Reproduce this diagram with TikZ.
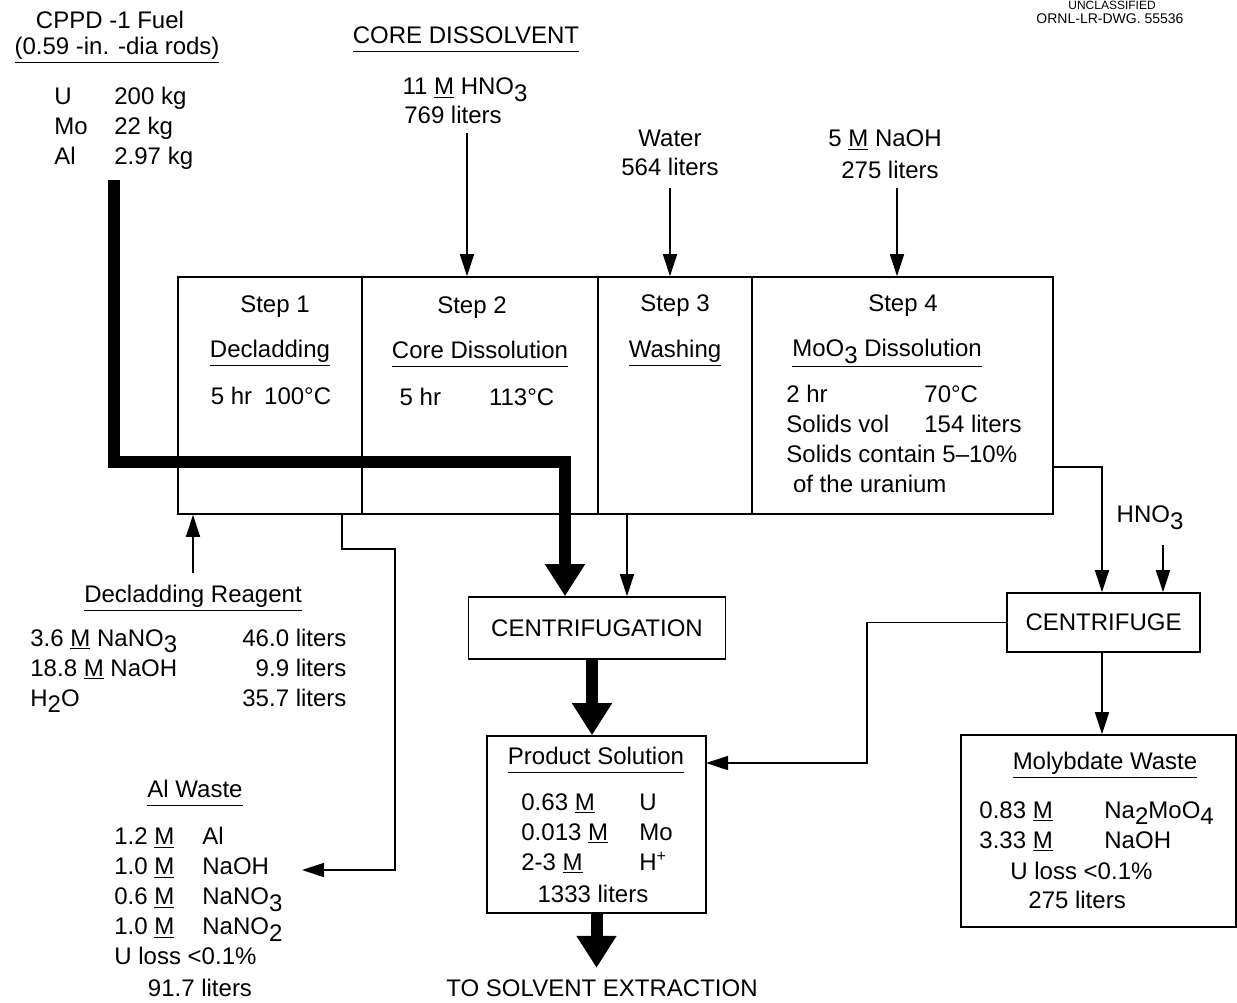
\documentclass[tikz,border=0pt]{standalone}
\usepackage{fontspec}
\setmainfont{Liberation Sans}
\usetikzlibrary{arrows.meta}
\newcommand{\ulh}[1]{\underline{#1\vphantom{g}}}
\newcommand{\subd}[1]{\raisebox{-0.55ex}{#1}}
\newcommand{\mol}{\underline{M}}
\begin{document}
\begin{tikzpicture}[x=0.5pt,y=-0.5pt,
  font=\fontsize{12}{15}\selectfont,
  every node/.style={inner sep=0pt},
  cell/.style={draw, line width=0.8pt, minimum height=118.5pt},
  box/.style={draw, line width=0.8pt},
  flow/.style={line width=0.8pt, -{Triangle[length=11pt,width=7pt]}},
  bigflow/.style={line width=6pt, -{Triangle[length=16pt,width=19pt]}},
  tab/.style={anchor=west, align=left}]
  \useasboundingbox (0,0) rectangle (1237,1002);
  \def\cy{395.5};
  % feed
  \node (fueltitle) at (110,20) {CPPD -1 Fuel};
  \node (fuelrods) at (117,50) {\ulh{(0.59 -in. -dia rods)}};
  \node[tab] (fueltab) at (54,128) {\begin{tabular}{@{}p{30pt}@{}l@{}}U & 200 kg\\ Mo & 22 kg\\ Al & 2.97 kg\end{tabular}};
  \coordinate (fuelend) at (114,180);
  \coordinate (fuelbend) at (565,462);
  \node (cdtitle) at (466,40) {\ulh{CORE DISSOLVENT}};
  \node (cdconc) at (465,90) {11 \mol{} HNO\subd{3}};
  \node (cdvol) at (453,115) {769 liters};
  \coordinate (cdend) at (467,133);
  \node (water) at (670,138) {Water};
  \node (watervol) at (670,167) {564 liters};
  \coordinate (waterend) at (670,188);
  \node (naoh) at (885,140) {5 \mol{} NaOH};
  \node (naohvol) at (890,170) {275 liters};
  \coordinate (naohend) at (897,188);
  \node[anchor=north] (uncl) at (1112,1) {\fontsize{6}{7}\selectfont UNCLASSIFIED};
  \node (ornl) at (1110,19) {\fontsize{7}{8}\selectfont ORNL-LR-DWG. 55536};
  % steps
  \node[cell, minimum width=92pt] (step1) at (270,\cy) {};
  \node[cell, minimum width=118pt] (step2) at (480,\cy) {};
  \node[cell, minimum width=77pt] (step3) at (675,\cy) {};
  \node[cell, minimum width=150.5pt] (step4) at (902.5,\cy) {};
  \node (s1a) at (275,307) {Step 1};
  \node (s1b) at (270,353) {\ulh{Decladding}};
  \node (s1c) at (271,396) {5 hr\enspace 100°C};
  \node (s2a) at (472,308) {Step 2};
  \node (s2b) at (480,354) {\ulh{Core Dissolution}};
  \node (s2c) at (477,397) {5 hr\qquad 113°C};
  \node (s3a) at (675,306) {Step 3};
  \node (s3b) at (675,353) {\ulh{Washing}};
  \node (s4a) at (903,306) {Step 4};
  \node (s4b) at (887,353) {\ulh{MoO\subd{3} Dissolution}};
  \node[tab] (s4tab) at (786,441) {\begin{tabular}{@{}p{69pt}@{}l@{}}2 hr & 70°C\\ Solids vol & 154 liters\\ \multicolumn{2}{@{}l@{}}{Solids contain 5–10\%}\\ \multicolumn{2}{@{}l@{}}{\ of the uranium}\end{tabular}};
  % reagent and Al waste
  \node (drtitle) at (193,598) {\ulh{Decladding Reagent}};
  \node[tab] (drtab) at (30,670) {\begin{tabular}{@{}p{106pt}@{}r@{}}3.6 \mol{} NaNO\subd{3} & 46.0 liters\\ 18.8 \mol{} NaOH & 9.9 liters\\ H\subd{2}O & 35.7 liters\end{tabular}};
  \coordinate (drend) at (193,573);
  \node (altitle) at (195,793) {\ulh{Al Waste}};
  \node[tab] (altab) at (114,898.5) {\begin{tabular}{@{}p{44pt}@{}l@{}}1.2 \mol & Al\\ 1.0 \mol & NaOH\\ 0.6 \mol & NaNO\subd{3}\\ 1.0 \mol & NaNO\subd{2}\\ \multicolumn{2}{@{}l@{}}{U loss <0.1\%}\end{tabular}};
  \node (alvol) at (200,988) {91.7 liters};
  \coordinate (alout) at (342,514);
  \coordinate (alin) at (302,870);
  % centrifugation and product
  \node[box, minimum width=128.5pt, minimum height=31pt] (centrif) at (597,628) {CENTRIFUGATION};
  \node[box, minimum width=109.5pt, minimum height=88.5pt] (product) at (596.5,824.5) {};
  \node (prtitle) at (596,760) {\ulh{Product Solution}};
  \node[tab] (prtab) at (521,834) {\begin{tabular}{@{}p{59pt}@{}l@{}}0.63 \mol & U\\ 0.013 \mol & Mo\\ 2-3 \mol & H\textsuperscript{+}\end{tabular}};
  \node (prvol) at (593,894) {1333 liters};
  \node (solvent) at (602,988) {TO SOLVENT EXTRACTION};
  \coordinate (washout) at (627,514);
  \coordinate (prin) at (706,763);
  % centrifuge and molybdate waste
  \node (hno) at (1150,518) {HNO\subd{3}};
  \coordinate (hnoend) at (1163,545);
  \coordinate (s4out) at (1052,467);
  \node[box, minimum width=96.5pt, minimum height=29.5pt] (centrifuge) at (1103.5,622.5) {CENTRIFUGE};
  \node[box, minimum width=137.5pt, minimum height=96pt] (molyb) at (1098.5,831) {};
  \node (mwtitle) at (1105,765) {\ulh{Molybdate Waste}};
  \node[tab] (mwtab) at (979,827) {\begin{tabular}{@{}p{62.5pt}@{}l@{}}0.83 \mol & Na\subd{2}MoO\subd{4}\\ 3.33 \mol & NaOH\end{tabular}};
  \node[anchor=west] (mwloss) at (1010,871) {U loss <0.1\%};
  \node[anchor=west] (mwvol) at (1028,900) {275 liters};
  % flows
  \draw[bigflow] (fuelend) |- (fuelbend) -- (fuelbend |- centrif.north);
  \draw[flow] (cdend) -- (cdend |- step2.north);
  \draw[flow] (waterend) -- (waterend |- step3.north);
  \draw[flow] (naohend) -- (naohend |- step4.north);
  \draw[flow] (drend) -- (drend |- step1.south);
  \draw[flow] (alout) |- (395,549) |- (alin);
  \draw[flow] (washout) -- (washout |- centrif.north);
  \draw[bigflow] ([xshift=-2.5pt]centrif.south) -- ([xshift=-2.5pt]centrif.south |- product.north);
  \draw[bigflow] (product.south) -- ++(0,54);
  \draw[flow] (s4out) -| ([xshift=-0.75pt]centrifuge.north);
  \draw[flow] (hnoend) -- (hnoend |- centrifuge.north);
  \draw[flow] (centrifuge.west) -| (867,763) -- (prin);
  \draw[flow] ([xshift=-0.75pt]centrifuge.south) -- ([xshift=-0.75pt]centrifuge.south |- molyb.north);
\end{tikzpicture}
\end{document}
